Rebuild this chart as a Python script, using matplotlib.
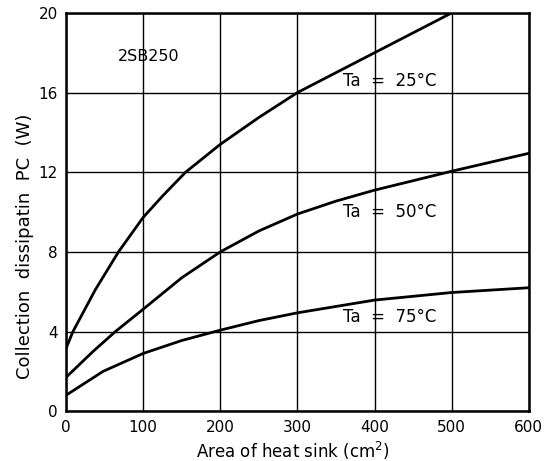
import numpy as np
import matplotlib
matplotlib.use("Agg")
import matplotlib.pyplot as plt

plt.rcParams['font.family'] = ['DejaVu Sans']

# values
area_25 = [0, 9, 38, 68, 100, 125, 155, 200, 250, 300, 350, 400, 450, 500]
pc_25 = [3.15, 4.0, 6.1, 8.0, 9.73, 10.8, 12.0, 13.4, 14.75, 16.0, 17.0, 18.0, 19.0, 20.0]

area_50 = [0, 35, 64, 100, 150, 200, 250, 300, 350, 400, 500, 600]
pc_50 = [1.7, 3.0, 4.0, 5.12, 6.7, 8.0, 9.05, 9.9, 10.55, 11.1, 12.05, 12.95]

area_75 = [0, 48, 100, 150, 200, 250, 300, 400, 500, 600]
pc_75 = [0.8, 2.0, 2.9, 3.55, 4.07, 4.55, 4.94, 5.58, 5.96, 6.2]

labels = ["Ta  =  25°C", "Ta  =  50°C", "Ta  =  75°C"]
label_pos = [(359, 16.6), (359, 10.0), (359, 4.74)]

xticks = [0, 100, 200, 300, 400, 500, 600]
yticks = [0, 4, 8, 12, 16, 20]

fig = plt.figure(figsize=(5.52, 4.61), dpi=100)
ax = fig.add_axes([0.1196, 0.108, 0.8384, 0.864])

ax.plot(area_25, pc_25, color='black', lw=2)
ax.plot(area_50, pc_50, color='black', lw=2)
ax.plot(area_75, pc_75, color='black', lw=2)

for txt, (x, y) in zip(labels, label_pos):
    ax.text(x, y, txt, fontsize=12, va='center', ha='left')
ax.text(67, 17.8, "2SB250", fontsize=11.5, va='center', ha='left')

ax.set_xlim(0, 600)
ax.set_ylim(0, 20)
ax.set_xticks(xticks)
ax.set_yticks(yticks)
ax.grid(True, color='black', lw=1)
ax.set_axisbelow(True)
ax.tick_params(length=0, labelsize=11, pad=6)
for s in ax.spines.values():
    s.set_linewidth(1.8)

ax.set_xlabel("Area of heat sink (cm$^2$)", fontsize=12, va='center')
ax.xaxis.set_label_coords(0.49, -0.1)
ax.set_ylabel("Collection  dissipatin  PC  (W)", fontsize=13, va='center')
ax.yaxis.set_label_coords(-0.089, 0.415)

fig.savefig("out.png", dpi=100)
